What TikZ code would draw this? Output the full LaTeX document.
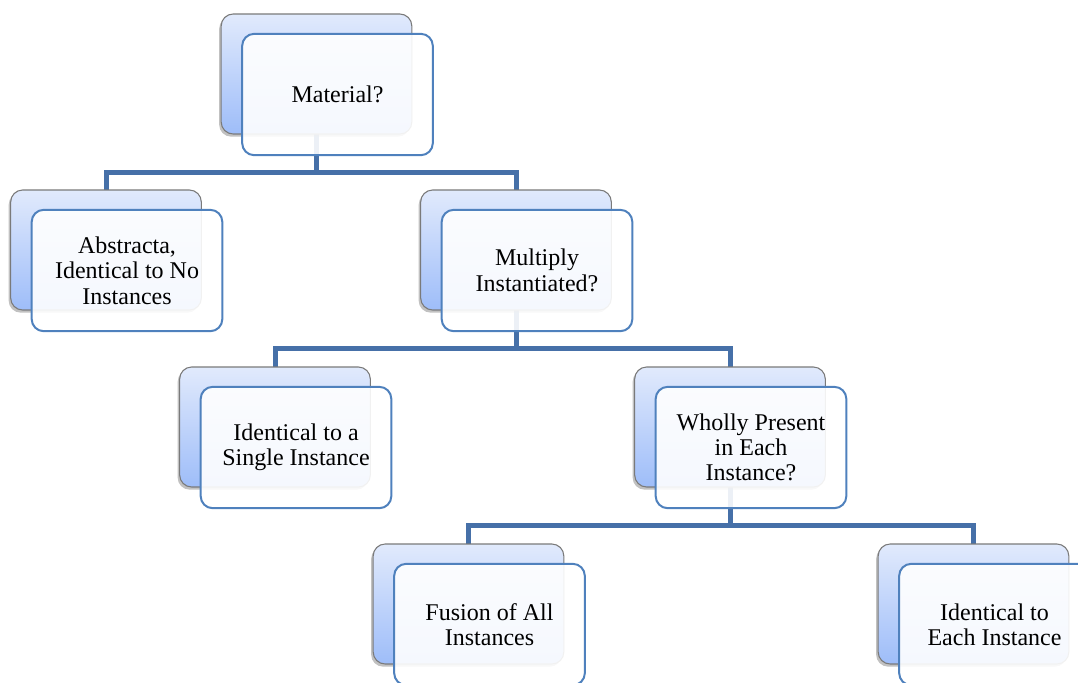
\documentclass[tikz,border=0pt]{standalone}
\usepackage{fontspec}
\setmainfont{Liberation Serif}
\usetikzlibrary{shadows}
\pgfdeclarelayer{background}
\pgfsetlayers{background,main}
\definecolor{conn}{HTML}{4670A8}
\definecolor{frontborder}{HTML}{4F81BD}
\definecolor{backtop}{HTML}{E1EAFC}
\definecolor{backbot}{HTML}{9EBDF9}
\definecolor{backborder}{HTML}{7A7A7A}
\tikzset{
  backbox/.style={draw=backborder, line width=0.8pt, rounded corners=9pt,
    top color=backtop, bottom color=backbot,
    minimum width=143pt, minimum height=90pt, inner sep=0pt, outer sep=0pt,
    drop shadow={shadow xshift=-1.5pt, shadow yshift=-2pt, opacity=0.35, fill=black!70}},
  frontbox/.style={draw=frontborder, line width=1.5pt, rounded corners=9pt,
    fill=white, fill opacity=0.9, text opacity=1,
    minimum width=143pt, minimum height=91pt, inner sep=0pt, outer sep=0pt,
    align=center, font=\fontsize{18}{19}\selectfont},
  connector/.style={draw=conn, line width=3.75pt, line join=miter},
}
\begin{document}
\begin{tikzpicture}[x=0.75pt,y=-0.75pt]
\useasboundingbox (0,0) rectangle (1078,682);
% back boxes
\node[backbox] (mb)  at (316.5,74) {};
\node[backbox] (ab)  at (106,250) {};
\node[backbox] (mub) at (516,250) {};
\node[backbox] (sb)  at (275,427) {};
\node[backbox] (wb)  at (730,427) {};
\node[backbox] (fb)  at (468.5,604) {};
\node[backbox] (eb)  at (973.5,604) {};
% front boxes
\node[frontbox] (m)  at (337.5,94.5) {Material?};
\node[frontbox] (a)  at (127,270.5) {Abstracta,\\Identical to No\\Instances};
\node[frontbox] (mu) at (537,270.5) {Multiply\\Instantiated?};
\node[frontbox] (s)  at (296,447.5) {Identical to a\\Single Instance};
\node[frontbox] (w)  at (751,447.5) {Wholly Present\\in Each\\Instance?};
\node[frontbox] (f)  at (489.5,624.5) {Fusion of All\\Instances};
\node[frontbox] (e)  at (994.5,624.5) {Identical to\\Each Instance};
% connectors
\coordinate (j1) at (316.5,172);
\coordinate (j2) at (516,348.5);
\coordinate (j3) at (730,525.5);
\begin{pgfonlayer}{background}
\draw[connector] (mb.south) -- (j1);
\draw[connector] (ab.north) |- (j1) -| (mub.north);
\draw[connector] (mub.south) -- (j2);
\draw[connector] (sb.north) |- (j2) -| (wb.north);
\draw[connector] (wb.south) -- (j3);
\draw[connector] (fb.north) |- (j3) -| (eb.north);
\end{pgfonlayer}
\end{tikzpicture}
\end{document}
